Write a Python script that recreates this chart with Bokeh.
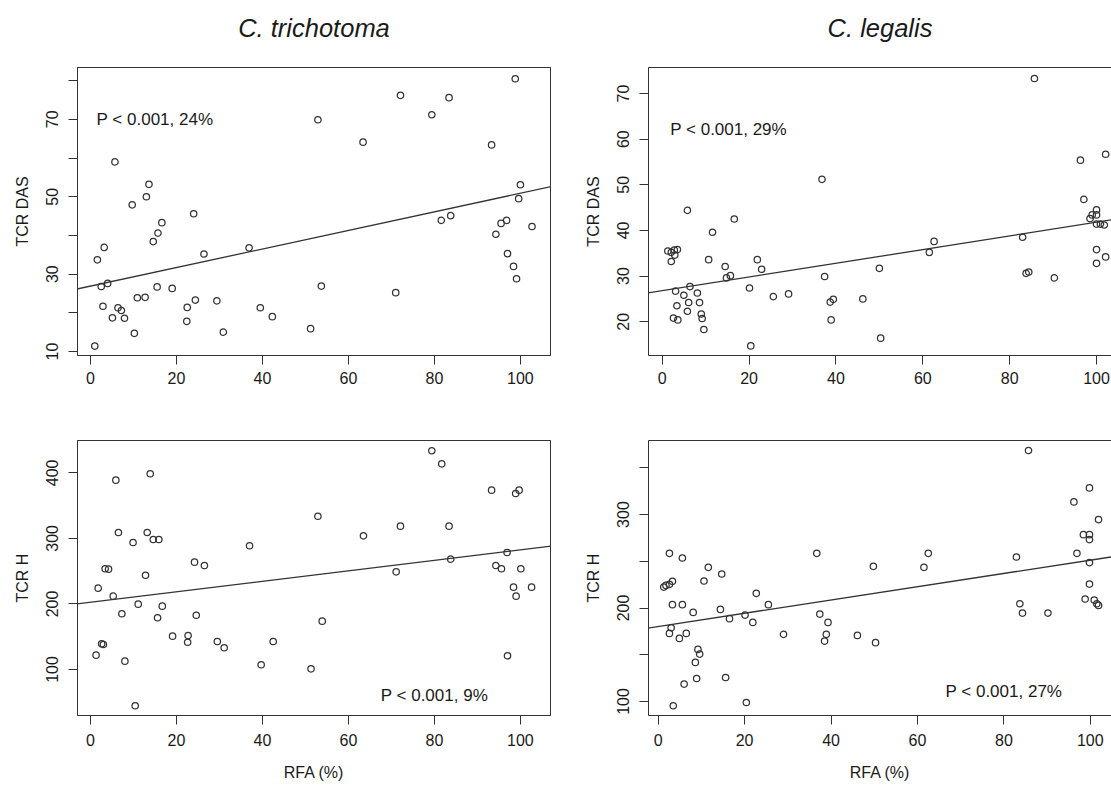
from bokeh.plotting import figure
from bokeh.models import FixedTicker, Slope, Label, Range1d, LinearAxis, ColumnDataSource
from bokeh.layouts import column, row
from bokeh.embed import file_html
from bokeh.resources import INLINE

# ---------------- data ----------------
species = ["C. trichotoma", "C. legalis"]
x_label = "RFA (%)"
y_labels = ["TCR DAS", "TCR H"]

tc_das_rfa = [1.0,1.6,3.2,2.5,4.0,2.9,5.7,5.1,6.4,7.2,7.9,9.7,10.2,10.9,12.7,13.0,13.6,14.6,15.7,16.6,15.5,19.0,22.5,22.4,24.4,24.0,26.4,29.4,30.9,36.9,39.5,42.3,52.9,51.2,53.7,63.4,71.0,72.1,79.4,83.4,81.6,83.8,93.3,98.8,100.0,99.6,94.3,95.5,96.8,97.0,98.4,99.1,102.7]
tc_das = [11.4,33.7,36.9,26.8,27.6,21.7,59.0,18.7,21.3,20.6,18.6,47.9,14.7,23.9,24.0,50.0,53.2,38.4,40.6,43.3,26.7,26.3,21.4,17.8,23.3,45.6,35.2,23.1,15.0,36.8,21.3,19.0,69.9,15.9,26.9,64.1,25.2,76.2,71.2,75.6,43.9,45.1,63.4,80.5,53.1,49.5,40.3,43.1,43.9,35.3,32.0,28.8,42.3]

cl_das_rfa = [1.3,2.1,2.8,3.5,2.9,2.1,5.8,3.1,3.4,2.6,3.6,5.0,6.4,6.1,5.8,8.1,8.6,9.0,9.2,9.6,10.7,11.6,14.5,14.8,15.7,16.6,20.1,20.4,21.9,22.9,25.6,29.1,36.8,37.4,38.7,39.4,38.9,46.2,50.0,50.3,61.5,62.6,83.0,83.8,84.4,85.7,90.3,96.3,97.1,98.5,99.0,100.0,100.0,100.0,100.9,101.8,102.1,100.0,100.0,102.1]
cl_das = [35.5,35.2,35.7,35.8,34.6,33.2,44.4,26.7,23.5,20.8,20.4,25.8,27.7,24.2,22.3,26.3,24.2,21.7,20.7,18.3,33.6,39.6,32.1,29.6,30.1,42.5,27.4,14.7,33.6,31.5,25.5,26.1,51.2,29.9,24.3,24.9,20.4,25.0,31.7,16.4,35.2,37.6,38.5,30.6,30.9,73.3,29.6,55.4,46.8,42.6,43.4,44.5,43.4,41.4,41.4,41.2,56.7,35.8,32.8,34.2]

tc_h_rfa = [1.3,1.8,2.6,3.0,3.4,4.2,5.3,5.9,6.5,7.3,8.0,9.9,10.4,11.1,12.8,13.2,13.9,14.6,15.9,15.6,16.7,19.1,22.6,22.7,24.2,24.6,26.5,29.5,31.1,37.0,39.7,42.5,51.3,52.9,53.9,63.5,71.1,72.1,79.4,81.7,83.4,83.8,93.3,94.3,95.6,96.9,97.0,98.4,98.9,99.7,99.0,100.1,102.6]
tc_h = [121.8,224.0,139.2,138.1,253.6,253.0,211.8,388.8,309.0,185.0,112.7,293.7,44.6,199.6,243.8,309.0,398.5,298.3,298.3,178.9,196.6,150.8,141.6,151.9,263.7,182.8,258.6,142.7,133.1,288.7,107.2,142.7,101.0,333.8,173.7,303.9,249.0,318.6,433.6,413.7,318.6,268.3,373.5,258.6,253.6,278.5,120.9,225.6,368.5,373.5,211.8,253.6,225.6]

cl_h_rfa = [1.3,1.8,2.6,3.3,2.6,3.3,3.0,2.6,3.5,4.9,5.6,5.6,6.5,6.0,8.1,8.6,8.9,9.2,9.6,10.6,11.6,14.4,14.7,15.6,16.5,20.1,20.4,21.9,22.7,25.5,29.0,36.7,37.4,38.9,38.5,39.3,46.1,49.8,50.3,61.5,62.5,82.9,83.7,84.3,85.7,90.2,96.2,96.9,98.4,99.8,99.8,99.8,99.8,99.8,98.8,100.9,101.5,101.9,101.9]
cl_h = [222.4,224.2,225.3,228.5,258.5,203.6,178.9,172.8,95.4,167.5,253.5,203.6,172.8,118.6,195.3,141.8,124.6,155.7,150.7,228.9,243.5,198.5,236.4,125.7,188.6,192.4,98.9,184.6,215.7,203.6,171.8,258.5,193.5,171.8,164.6,184.6,170.7,244.6,162.9,243.5,258.5,254.6,204.6,194.6,368.5,194.6,313.5,258.5,278.5,328.5,278.5,273.2,248.6,225.6,209.6,208.5,204.6,202.8,294.6]

# fitted regression lines (intercept, slope)
fit_intercept = [26.9, 26.8, 202.5, 180.2]
fit_slope = [0.24, 0.150, 0.80, 0.71]

# annotation texts and positions (data units)
p_texts = ["P < 0.001, 24%", "P < 0.001, 29%", "P < 0.001, 9%", "P < 0.001, 27%"]
p_text_x = [15, 15.3, 80, 80]
p_text_y = [70, 62.2, 60.3, 111]

x_ticks = [0, 20, 40, 60, 80, 100]
y_ticks = [[10, 20, 30, 40, 50, 60, 70, 80], [20, 30, 40, 50, 60, 70],
           [100, 200, 300, 400], [100, 150, 200, 250, 300, 350]]
y_tick_labels = [{20: "", 40: "", 60: "", 80: ""}, {}, {}, {150: "", 250: "", 350: ""}]

FONT = "Liberation Sans"
INK = "#333333"
TXT = "#1a1a1a"


def make_panel(idx, xs, ys, width, height, xr, yr, mb, title=None, xlab=None, ylab=None,
               boxed=True, x_std=(7, 15)):
    p = figure(width=width, height=height, x_range=Range1d(*xr), y_range=Range1d(*yr),
               output_backend="svg", toolbar_location=None,
               min_border_left=mb[0], min_border_right=mb[1],
               min_border_top=mb[2], min_border_bottom=mb[3])
    p.grid.visible = False
    p.background_fill_color = "white"
    p.border_fill_color = "white"
    p.outline_line_color = INK if boxed else None
    xa = p.below[0]
    ya = p.left[0]
    xa.ticker = FixedTicker(ticks=x_ticks)
    ya.ticker = FixedTicker(ticks=y_ticks[idx])
    ya.major_label_overrides = y_tick_labels[idx]
    for ax in [xa, ya]:
        ax.axis_line_color = INK
        ax.major_tick_line_color = INK
        ax.major_tick_out = 9
        ax.major_tick_in = 0
        ax.minor_tick_line_color = None
        ax.major_label_text_font = FONT
        ax.major_label_text_font_size = "16px"
        ax.major_label_text_color = TXT
        ax.axis_label_text_font = FONT
        ax.axis_label_text_font_size = "16px"
        ax.axis_label_text_font_style = "normal"
        ax.axis_label_text_color = TXT
    ya.major_label_orientation = "vertical"
    ya.major_label_standoff = 10
    ya.axis_label_standoff = 13
    xa.major_label_standoff = x_std[0]
    xa.axis_label_standoff = x_std[1]
    if ylab:
        ya.axis_label = ylab
    if xlab:
        xa.axis_label = xlab
    # top border line; carries the species name as its label
    top = LinearAxis(ticker=FixedTicker(ticks=[]), major_label_text_font_size="0px",
                     axis_line_color=INK, major_tick_line_color=None,
                     minor_tick_line_color=None, major_tick_out=0, major_tick_in=0,
                     major_label_standoff=0)
    if title:
        top.axis_label = title
        top.axis_label_text_font = FONT
        top.axis_label_text_font_size = "25.5px"
        top.axis_label_text_font_style = "italic"
        top.axis_label_text_color = TXT
        top.axis_label_standoff = 26
    p.add_layout(top, "above")
    src = ColumnDataSource(dict(x=xs, y=ys))
    p.scatter("x", "y", source=src, marker="circle", size=6.4, fill_color=None,
              line_color=INK, line_width=1.25)
    p.add_layout(Slope(gradient=fit_slope[idx], y_intercept=fit_intercept[idx],
                       line_color=INK, line_width=1.3))
    p.add_layout(Label(x=p_text_x[idx], y=p_text_y[idx], text=p_texts[idx],
                       text_font=FONT, text_font_size="17px", text_color=TXT,
                       text_align="center", text_baseline="middle"))
    return p


p1 = make_panel(0, tc_das_rfa, tc_das, 560, 400, (-3.02, 107.0), (8.97, 83.4),
                (77, 10, 67, 45), title=species[0], ylab=y_labels[0])
p2 = make_panel(1, cl_das_rfa, cl_das, 551, 400, (-3.15, 103.45), (12.6, 75.7),
                (88, 0, 67, 45), title=species[1], ylab=y_labels[0], boxed=False)
p3 = make_panel(2, tc_h_rfa, tc_h, 560, 387, (-3.02, 107.0), (29.8, 449.3),
                (77, 10, 40, 72), xlab=x_label, ylab=y_labels[1], x_std=(9, 15))
p4 = make_panel(3, cl_h_rfa, cl_h, 551, 387, (-2.24, 104.9), (85.0, 379.2),
                (88, 0, 40, 72), xlab=x_label, ylab=y_labels[1], boxed=False, x_std=(9, 15))

layout = column(row(p1, p2), row(p3, p4))
open("out.html", "w").write(file_html(layout, INLINE))
